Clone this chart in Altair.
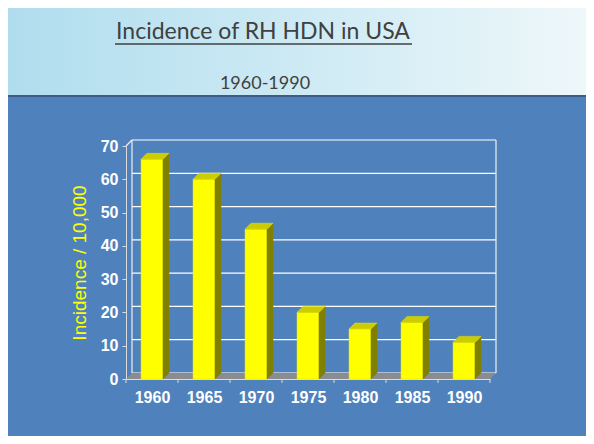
import altair as alt
import pandas as pd

# ---- data ----
years = [1960, 1965, 1970, 1975, 1980, 1985, 1990]
incidence = [66, 60, 45, 20, 15, 17, 11]
y_ticks = [0, 10, 20, 30, 40, 50, 60, 70]
title_text = "Incidence of RH HDN in USA"
subtitle_text = "1960-1990"
y_title = "Incidence / 10,000"

# ---- layout ----
W, H = 364, 233
PAD = {"left": 118, "top": 138, "right": 96, "bottom": 57}
STEP = years[1] - years[0]
X_DOM = [years[0] - STEP / 2, years[-1] + STEP / 2]
Y_DOM = [y_ticks[0], y_ticks[-1]]
PX_X = W / (X_DOM[1] - X_DOM[0])
PX_Y = H / (Y_DOM[1] - Y_DOM[0])
DX = 6 / PX_X      # 3D depth, in data units
DY = 6 / PX_Y
HW = 11 / PX_X     # half bar width, in data units
X0, X1 = X_DOM

xs = alt.Scale(domain=X_DOM, nice=False, zero=False)
ys = alt.Scale(domain=Y_DOM, nice=False, zero=False)

YELLOW = "#ffff00"
TOP = "#cccc00"
SIDE = "#808000"
LIGHT = "#dcdcdc"

X_AXIS = alt.Axis(values=years, format="d", title=None, ticks=False,
                  domainColor=LIGHT, domainWidth=1, labelColor="white",
                  labelFont="Liberation Sans", labelFontSize=16,
                  labelFontWeight="bold", labelPadding=10, grid=False,
                  zindex=1, labelFlush=False, labelOverlap=False)
Y_AXIS = alt.Axis(values=y_ticks, title=y_title, titleColor=YELLOW,
                  titleFont="Liberation Sans", titleFontSize=19,
                  titleFontWeight="normal", titlePadding=11,
                  tickSize=4, tickColor=LIGHT, domainColor=LIGHT,
                  labelColor="white", labelFont="Liberation Sans",
                  labelFontSize=16, labelFontWeight="bold",
                  labelPadding=4, grid=False, zindex=1,
                  labelFlush=False, labelOverlap=False)


def X(f):
    return alt.X(f, scale=xs, axis=X_AXIS)


def Y(f):
    return alt.Y(f, scale=ys, axis=Y_AXIS, stack=None)


# ---- derived tables ----
front = pd.DataFrame({"year": years, "v": incidence})
front["xl"] = front["year"] - HW
front["xr"] = front["year"] + HW
front["base"] = 0

side_rows, top_rows = [], []
for yr, v in zip(years, incidence):
    xl, xr = yr - HW, yr + HW
    side_rows += [dict(year=yr, x=xr, y=v, y2=0),
                  dict(year=yr, x=xr + DX, y=v + DY, y2=DY)]
    top_rows += [dict(year=yr, x=xl, y=v, y2=v),
                 dict(year=yr, x=xl + DX, y=v + DY, y2=v),
                 dict(year=yr, x=xr, y=v + DY, y2=v),
                 dict(year=yr, x=xr + DX, y=v + DY, y2=v + DY)]
side = pd.DataFrame(side_rows)
top = pd.DataFrame(top_rows)

floor = pd.DataFrame([dict(x=X0, y=0, y2=0), dict(x=X0 + DX, y=DY, y2=0),
                      dict(x=X1, y=DY, y2=0), dict(x=X1 + DX, y=DY, y2=DY)])

grid = pd.DataFrame({"t": y_ticks})
grid["y"] = grid["t"] + DY
grid["x"] = X0 + DX
grid["x2"] = X1 + DX

edges = pd.DataFrame({"x": [X0 + DX, X1 + DX], "y": [DY, DY],
                      "y2": [Y_DOM[1] + DY] * 2})
diag = pd.DataFrame({"x": [X0], "x2": [X0 + DX], "y": [Y_DOM[1]], "y2": [Y_DOM[1] + DY]})

bounds = pd.DataFrame({"x": [yr - STEP / 2 for yr in years] + [years[-1] + STEP / 2]})
bounds["y"] = 0
bounds["y2"] = -4 / PX_Y

head = pd.DataFrame({"title": [title_text], "sub": [subtitle_text]})

# ---- header ----
grad = alt.LinearGradient(
    gradient="linear",
    stops=[alt.GradientStop(color="#b0ddee", offset=0),
           alt.GradientStop(color="#cdeaf4", offset=0.5),
           alt.GradientStop(color="#eef7fa", offset=1)],
    x1=0, x2=1, y1=0, y2=0)

header_bg = alt.Chart(head).mark_rect(fill=grad).encode(
    x=alt.value(-PAD["left"]), x2=alt.value(W + PAD["right"]),
    y=alt.value(-PAD["top"]), y2=alt.value(-51))
header_line = alt.Chart(head).mark_rule(color="#3b5c84", strokeWidth=2).encode(
    x=alt.value(-PAD["left"]), x2=alt.value(W + PAD["right"]), y=alt.value(-50))
title = alt.Chart(head).mark_text(font="Lato", fontSize=23, color="#404040",
                                  align="center", baseline="alphabetic").encode(
    x=alt.value(137), y=alt.value(-107), text="title:N")
underline = alt.Chart(head).mark_rule(color="#404040", strokeWidth=1.3).encode(
    x=alt.value(-11), x2=alt.value(286), y=alt.value(-102))
subtitle = alt.Chart(head).mark_text(font="Lato", fontSize=18, color="#404040",
                                     align="center", baseline="alphabetic").encode(
    x=alt.value(139), y=alt.value(-57), text="sub:N")

# ---- 3D frame ----
back_grid = alt.Chart(grid).mark_rule(color="white", strokeWidth=1.2).encode(
    x=X("x:Q"), x2="x2:Q", y=Y("y:Q"))
back_edges = alt.Chart(edges).mark_rule(color="#f0f0f0", strokeWidth=1.2).encode(
    x=X("x:Q"), y=Y("y:Q"), y2="y2:Q")
diag_line = alt.Chart(diag).mark_rule(color="#f0f0f0", strokeWidth=1.2).encode(
    x=X("x:Q"), x2="x2:Q", y=Y("y:Q"), y2="y2:Q")
floor_area = alt.Chart(floor).mark_area(color="#8c8c8c", line=False).encode(
    x=X("x:Q"), y=Y("y:Q"), y2="y2:Q")

# ---- bars ----
side_faces = alt.Chart(side).mark_area(color=SIDE, stroke=SIDE, strokeWidth=0.5).encode(
    x=X("x:Q"), y=Y("y:Q"), y2="y2:Q", detail="year:N")
top_faces = alt.Chart(top).mark_area(color=TOP, stroke="#e6e600", strokeWidth=0.5).encode(
    x=X("x:Q"), y=Y("y:Q"), y2="y2:Q", detail="year:N")
front_faces = alt.Chart(front).mark_rect(color=YELLOW, stroke="#e0e000", strokeWidth=0.5).encode(
    x=X("xl:Q"), x2="xr:Q", y=Y("v:Q"), y2="base:Q")
tick_marks = alt.Chart(bounds).mark_rule(color=LIGHT, strokeWidth=1).encode(
    x=X("x:Q"), y=Y("y:Q"), y2="y2:Q")

chart = alt.layer(
    back_grid, back_edges, floor_area, diag_line,
    front_faces, side_faces, top_faces, tick_marks,
    header_bg, header_line, title, underline, subtitle,
).properties(
    width=W, height=H,
    autosize=alt.AutoSizeParams(type="none"),
    padding=PAD,
    background="#4f81bd",
).configure_view(stroke=None)

chart.save("out.html", embed_options={"renderer": "svg", "actions": False})
